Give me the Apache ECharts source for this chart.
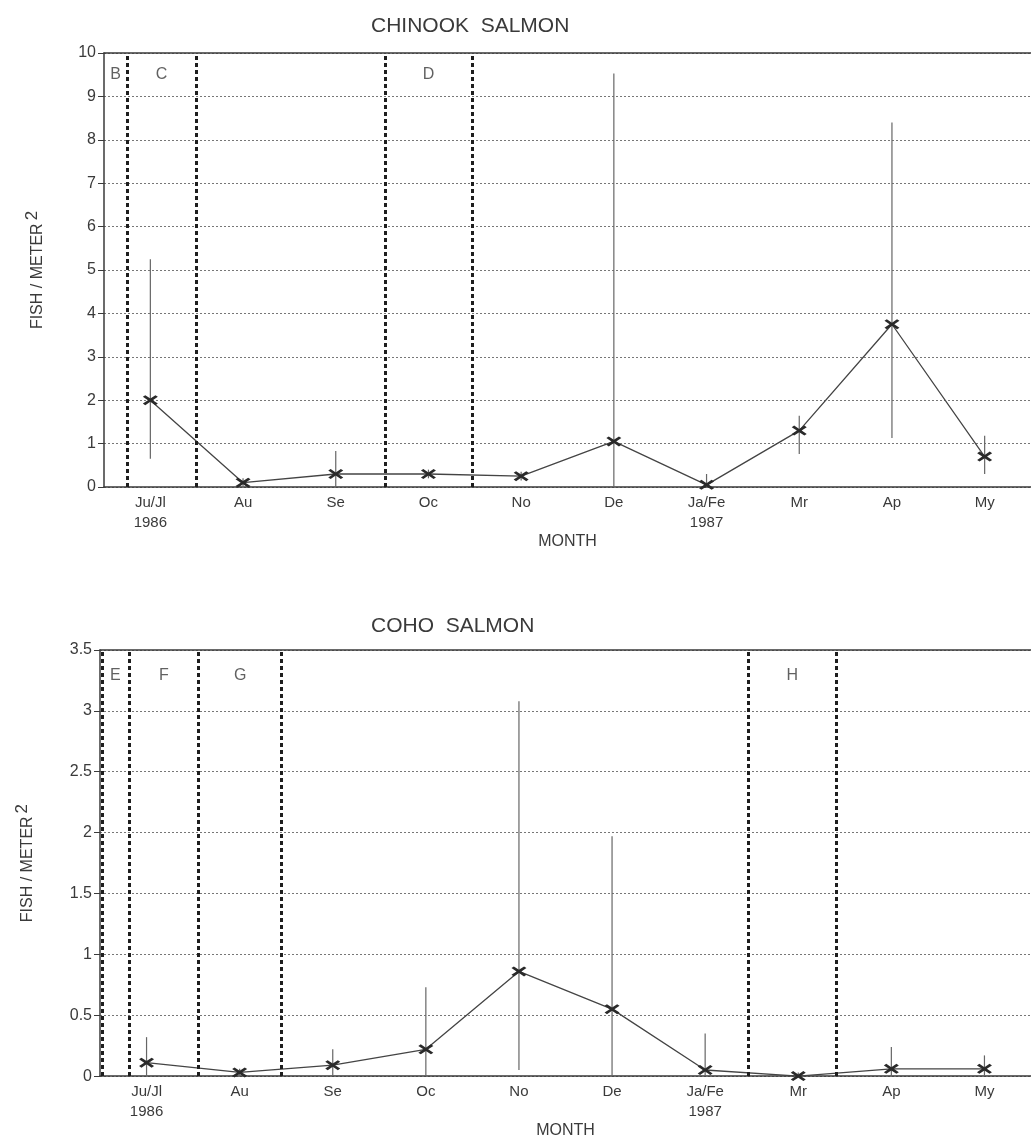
<!DOCTYPE html>
<html>
<head>
<meta charset="utf-8">
<script src="https://cdn.jsdelivr.net/npm/echarts@6/dist/echarts.min.js"></script>
<style>
  html, body { margin: 0; padding: 0; background: #fff; }
  #main { width: 1031px; height: 1140px; }
</style>
</head>
<body>
<div id="main"></div>
<script>
var months = ['Ju/Jl\n1986', 'Au', 'Se', 'Oc', 'No', 'De', 'Ja/Fe\n1987', 'Mr', 'Ap', 'My'];

// chinook salmon, fish per square meter
var chinookMean = [2.0, 0.1, 0.3, 0.3, 0.25, 1.05, 0.05, 1.3, 3.75, 0.7];
var chinookLow = [0.65, 0.0, 0.0, 0.2, 0.15, 0.0, 0.0, 0.76, 1.13, 0.3];
var chinookHigh = [5.25, 0.2, 0.83, 0.4, 0.35, 9.53, 0.3, 1.64, 8.4, 1.18];
var chinookZones = ['B', 'C', 'D'];
var chinookZoneFrom = [-0.5, -0.25, 2.53];
var chinookZoneTo = [-0.25, 0.49, 3.47];

// coho salmon
var cohoMean = [0.11, 0.03, 0.09, 0.22, 0.86, 0.55, 0.05, 0.0, 0.06, 0.06];
var cohoLow = [0.0, 0.0, 0.0, 0.0, 0.05, 0.0, 0.0, 0.0, 0.0, 0.0];
var cohoHigh = [0.32, 0.06, 0.22, 0.73, 3.08, 1.97, 0.35, 0.03, 0.24, 0.17];
var cohoZones = ['E', 'F', 'G', 'H'];
var cohoZoneFrom = [-0.48, -0.19, 0.56, 6.46];
var cohoZoneTo = [-0.19, 0.56, 1.45, 7.41];

var FONT = 'Liberation Sans, Arial, sans-serif';
var INK = '#3a3a3a';
// bold "x" marker
var xMark = 'path://M0,1.6L1.6,0L5,3.4L8.4,0L10,1.6L6.6,5L10,8.4L8.4,10L5,6.6L1.6,10L0,8.4L3.4,5Z';

var dom = document.getElementById('main');
var chart = echarts.init(dom);

function errBar(params, api) {
    var lo = api.coord([api.value(0), api.value(1)]);
    var hi = api.coord([api.value(0), api.value(2)]);
    return {
        type: 'line',
        shape: {x1: lo[0], y1: lo[1], x2: hi[0], y2: hi[1]},
        style: {stroke: '#666', lineWidth: 1.2}
    };
}

function breakLines(from, to) {
    var xs = [];
    for (var i = 0; i < from.length; i++) {
        if (from[i] > -0.5) xs.push(from[i]);
        if (xs.indexOf(to[i]) < 0) xs.push(to[i]);
    }
    return xs.map(function (v) { return {xAxis: v}; });
}

function zoneLabels(names, from, to, y) {
    return names.map(function (n, i) { return [(from[i] + to[i]) / 2, y, n]; });
}

function catAxis(grid) {
    return {
        type: 'category', gridIndex: grid, data: months, boundaryGap: true,
        name: 'MONTH', nameLocation: 'middle', nameGap: 30,
        nameTextStyle: {color: INK, fontSize: 16, fontFamily: FONT},
        axisLine: {onZero: false, lineStyle: {color: INK, width: 1.5}},
        axisTick: {alignWithLabel: true, length: 5, lineStyle: {color: INK}},
        axisLabel: {color: INK, fontSize: 15, fontFamily: FONT, margin: 6, lineHeight: 20}
    };
}

function overlayAxis(grid) {
    return {
        type: 'value', gridIndex: grid, min: -0.5, max: 9.5, position: 'top',
        axisLine: {show: true, onZero: false, lineStyle: {color: INK, width: 1.5}},
        axisTick: {show: false}, axisLabel: {show: false}, splitLine: {show: false}
    };
}

function valAxis(grid, max, step, gap) {
    return {
        type: 'value', gridIndex: grid, min: 0, max: max, interval: step,
        name: '{a|FISH / METER}{b|2}', nameLocation: 'middle', nameRotate: 90, nameGap: gap,
        nameTextStyle: {
            color: INK, fontFamily: FONT,
            rich: {
                a: {fontSize: 16, fontFamily: FONT, color: INK, verticalAlign: 'bottom', lineHeight: 22},
                b: {fontSize: 17, fontFamily: FONT, color: INK, verticalAlign: 'top', padding: [0, 0, 0, 3]}
            }
        },
        axisLine: {show: true, onZero: false, lineStyle: {color: INK, width: 1.5}},
        axisTick: {show: true, length: 6, lineStyle: {color: INK}},
        axisLabel: {color: INK, fontSize: 16, fontFamily: FONT, margin: 8},
        splitLine: {show: true, lineStyle: {color: '#777', type: [2, 2], width: 1}}
    };
}

function panel(idx, mean, low, high, names, from, to, labelY) {
    var err = low.map(function (v, i) { return [i, v, high[i]]; });
    return [{
        type: 'custom', xAxisIndex: idx * 2, yAxisIndex: idx,
        renderItem: errBar, encode: {x: 0, y: [1, 2]}, data: err, z: 2, silent: true
    }, {
        type: 'line', xAxisIndex: idx * 2, yAxisIndex: idx, data: mean,
        symbol: xMark, symbolSize: [15, 10], showAllSymbol: true,
        itemStyle: {color: '#2a2a2a'},
        lineStyle: {color: '#444', width: 1.3}, z: 3, silent: true
    }, {
        type: 'scatter', xAxisIndex: idx * 2 + 1, yAxisIndex: idx,
        data: zoneLabels(names, from, to, labelY), symbolSize: 0, silent: true,
        label: {
            show: true, position: 'inside', color: INK, fontSize: 16, fontFamily: FONT,
            formatter: function (p) { return p.value[2]; }
        },
        markLine: {
            silent: true, symbol: 'none', label: {show: false},
            lineStyle: {color: '#1e1e1e', type: [4, 3], width: 3},
            data: breakLines(from, to)
        }
    }];
}

var option = {
    backgroundColor: '#fff',
    animation: false,
    title: [
        {text: 'CHINOOK  SALMON', left: 366, top: 11,
         textStyle: {color: INK, fontSize: 21, fontWeight: 'normal', fontFamily: FONT}},
        {text: 'COHO  SALMON', left: 366, top: 611,
         textStyle: {color: INK, fontSize: 21, fontWeight: 'normal', fontFamily: FONT}}
    ],
    grid: [
        {left: 104, top: 53, width: 937, height: 434},
        {left: 100, top: 650, width: 940, height: 435}
    ],
    xAxis: [catAxis(0), overlayAxis(0), catAxis(1), overlayAxis(1)],
    yAxis: [valAxis(0, 10, 1, 58), valAxis(1, 3.5, 0.5, 64)],
    series: [].concat(
        panel(0, chinookMean, chinookLow, chinookHigh, chinookZones, chinookZoneFrom, chinookZoneTo, 9.5),
        panel(1, cohoMean, cohoLow, cohoHigh, cohoZones, cohoZoneFrom, cohoZoneTo, 3.29)
    )
};

chart.setOption(option, true);
</script>
</body>
</html>
